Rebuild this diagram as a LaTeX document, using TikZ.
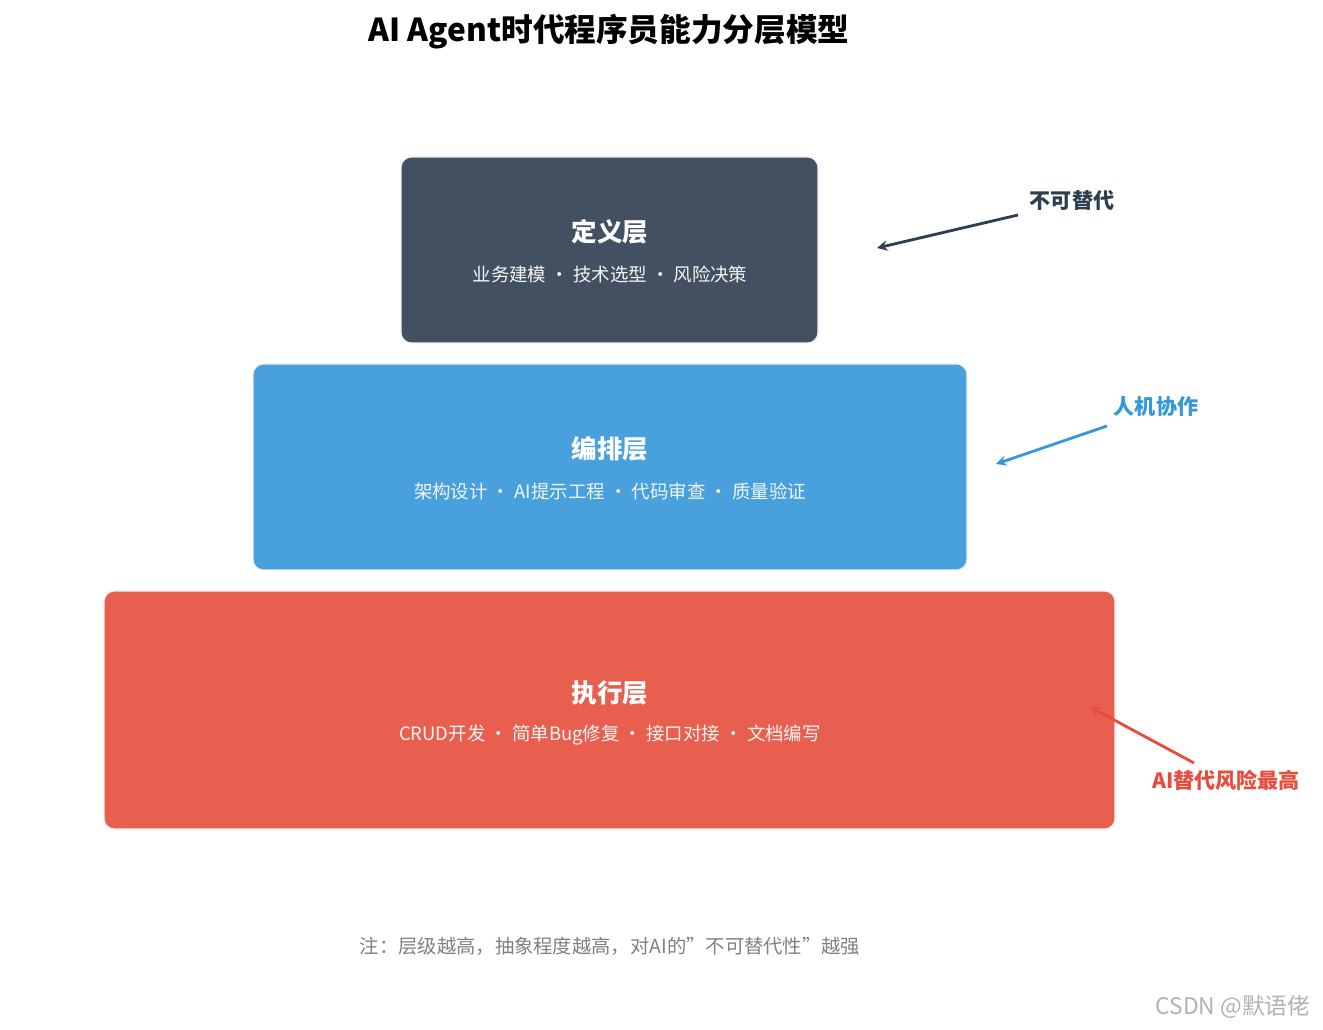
\documentclass[tikz,border=0pt]{standalone}
\usepackage{fontspec}
\setmainfont{Noto Sans CJK SC}
\usetikzlibrary{positioning}
\definecolor{defc}{HTML}{435062}
\definecolor{orcc}{HTML}{48A1DC}
\definecolor{exec}{HTML}{E95F4F}
\definecolor{darkc}{HTML}{2C3E50}
\definecolor{bluec}{HTML}{3498DB}
\definecolor{redc}{HTML}{E74C3C}
\tikzset{
  layer/.style={draw=white!90!gray, line width=0.6pt, rounded corners=6pt, inner sep=0pt},
  ltitle/.style={text=white, font=\fontsize{14.5}{16}\selectfont\bfseries},
  lsub/.style={text=white!92!gray, font=\fontsize{10.5}{12}\selectfont},
  tag/.style={font=\fontsize{12}{14}\selectfont\bfseries},
  pointer/.style={line width=1.6pt, ->, >=stealth}
}
\begin{document}
\begin{tikzpicture}[x=0.02cm,y=-0.02cm]
\useasboundingbox (0,0) rectangle (1323,1030);
% title
\node (title) at (609,32) {\fontsize{18}{20}\selectfont\bfseries AI Agent时代程序员能力分层模型};
% layers
\draw [layer, fill=defc] (401,157) rectangle (818,343);
\draw [layer, fill=orcc] (253,364) rectangle (967,570);
\draw [layer, fill=exec] (104,591) rectangle (1115,829);
\node [ltitle] (deft) at (610,232) {定义层};
\node [lsub] (defs) at (610,274) {业务建模 · 技术选型 · 风险决策};
\node [ltitle] (orct) at (610,449) {编排层};
\node [lsub] (orcs) at (610,491) {架构设计 · AI提示工程 · 代码审查 · 质量验证};
\node [ltitle] (exet) at (610,693) {执行层};
\node [lsub] (exes) at (610,735) {CRUD开发 · 简单Bug修复 · 接口对接 · 文档编写};
% tags
\node [tag, text=darkc] (tag1) at (1072,200) {不可替代};
\node [tag, text=bluec] (tag2) at (1156,407) {人机协作};
\node [tag, text=redc] (tag3) at (1226,780) {AI替代风险最高};
\coordinate (a1) at (1018,215);
\coordinate (b1) at (877,248);
\coordinate (a2) at (1107,426);
\coordinate (b2) at (996,464);
\coordinate (a3) at (1194,763);
\coordinate (b3) at (1090,707);
\draw [pointer, darkc] (a1) -- (b1);
\draw [pointer, bluec] (a2) -- (b2);
\draw [pointer, redc] (a3) -- (b3);
% note
\node [text=gray, font=\fontsize{11}{13}\selectfont] (note) at (610,946) {注：层级越高，抽象程度越高，对\textit{AI}的"不可替代性"越强};
\node [text=black!30, font=\fontsize{13}{15}\selectfont] (mark) at (1233,1007) {CSDN @默语佬};
\end{tikzpicture}
\end{document}
